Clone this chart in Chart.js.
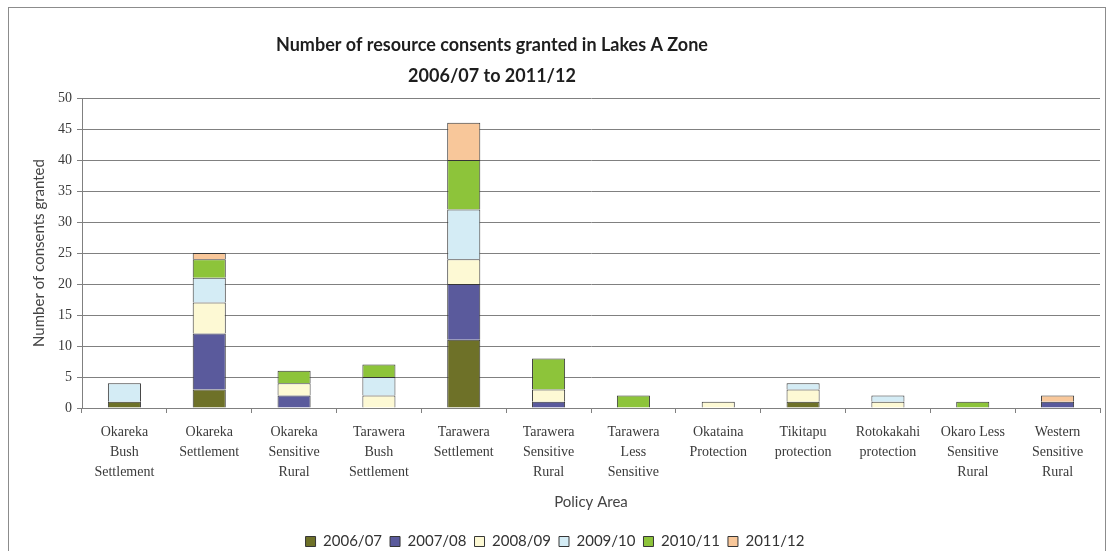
<!DOCTYPE html>
<html>
<head>
<meta charset="utf-8">
<script src="https://cdn.jsdelivr.net/npm/chart.js@4"></script>
<style>
  html, body { margin: 0; padding: 0; background: #fff; overflow: hidden; }
  #frame { position: absolute; left: 8px; top: 7px; width: 1096px; height: 600px; border: 1px solid #8c8c8c; }
  #myChart { position: absolute; left: 0; top: 0; }
</style>
</head>
<body>
<div id="frame"></div>
<canvas id="myChart" width="1108" height="559"></canvas>
<script>
const titleLines = ['Number of resource consents granted in Lakes A Zone', '2006/07 to 2011/12'];

const areas = [
  ['Okareka', 'Bush', 'Settlement'],
  ['Okareka', 'Settlement'],
  ['Okareka', 'Sensitive', 'Rural'],
  ['Tarawera', 'Bush', 'Settlement'],
  ['Tarawera', 'Settlement'],
  ['Tarawera', 'Sensitive', 'Rural'],
  ['Tarawera', 'Less', 'Sensitive'],
  ['Okataina', 'Protection'],
  ['Tikitapu', 'protection'],
  ['Rotokakahi', 'protection'],
  ['Okaro Less', 'Sensitive', 'Rural'],
  ['Western', 'Sensitive', 'Rural'],
];

const years = ['2006/07', '2007/08', '2008/09', '2009/10', '2010/11', '2011/12'];

// consents granted per policy area, one array per year
const y2006 = [1, 3, 0, 0, 11, 0, 0, 0, 1, 0, 0, 0];
const y2007 = [0, 9, 2, 0, 9, 1, 0, 0, 0, 0, 0, 1];
const y2008 = [0, 5, 2, 2, 4, 2, 0, 1, 2, 1, 0, 0];
const y2009 = [3, 4, 0, 3, 8, 0, 0, 0, 1, 1, 0, 0];
const y2010 = [0, 3, 2, 2, 8, 5, 2, 0, 0, 0, 1, 0];
const y2011 = [0, 1, 0, 0, 6, 0, 0, 0, 0, 0, 0, 1];

const yearColors = ['#6e7128', '#5a5a9c', '#fdf9d4', '#d4ecf5', '#8dc43a', '#f8c79a'];

const series = [y2006, y2007, y2008, y2009, y2010, y2011];

const gridGrey = '#808080';
const serif = 'Liberation Serif';
const sans = 'Lato';

// two-line heading, drawn left of centre like the original sheet
const headingPlugin = {
  id: 'heading',
  afterDraw(chart) {
    const c = chart.ctx;
    c.save();
    c.font = 'bold 18px ' + sans;
    c.fillStyle = '#1e1e1e';
    c.textAlign = 'center';
    c.textBaseline = 'middle';
    c.fillText(titleLines[0], 492, 45);
    c.fillText(titleLines[1], 492, 76);
    c.restore();
  }
};

const config = {
  type: 'bar',
  data: {
    labels: areas,
    datasets: series.map((values, i) => ({
      label: years[i],
      data: values,
      backgroundColor: yearColors[i],
      borderColor: '#363636',
      borderWidth: 1,
      barPercentage: 0.39,
      categoryPercentage: 1,
    })),
  },
  options: {
    responsive: false,
    animation: false,
    layout: { padding: { top: 98, left: 10, right: 8, bottom: 0 } },
    plugins: {
      tooltip: { enabled: false },
      legend: {
        position: 'bottom',
        labels: {
          boxWidth: 10,
          boxHeight: 10,
          padding: 8,
          color: '#333',
          font: { family: sans, size: 15 },
        },
      },
    },
    scales: {
      x: {
        stacked: true,
        afterFit(scale) { scale.height = 118; },
        grid: {
          offset: true,
          drawOnChartArea: false,
          drawTicks: true,
          tickLength: 5,
          color: gridGrey,
        },
        border: { color: gridGrey },
        ticks: {
          autoSkip: false,
          maxRotation: 0,
          padding: 10,
          color: '#3a3a3a',
          font: { family: serif, size: 14, lineHeight: 1.4 },
        },
        title: {
          display: true,
          text: 'Policy Area',
          color: '#444',
          padding: { top: 0, bottom: 15 },
          font: { family: sans, size: 15 },
        },
      },
      y: {
        stacked: true,
        min: 0,
        max: 50,
        afterFit(scale) { scale.width = 72; },
        grid: {
          color: gridGrey,
          tickLength: 5,
        },
        border: { color: gridGrey },
        ticks: {
          stepSize: 5,
          padding: 5,
          color: '#3a3a3a',
          font: { family: serif, size: 14 },
        },
        title: {
          display: true,
          text: 'Number of consents granted',
          color: '#444',
          padding: { top: 20, bottom: 0 },
          font: { family: sans, size: 15 },
        },
      },
    },
  },
  plugins: [headingPlugin],
};

new Chart(document.getElementById('myChart'), config);
</script>
</body>
</html>
